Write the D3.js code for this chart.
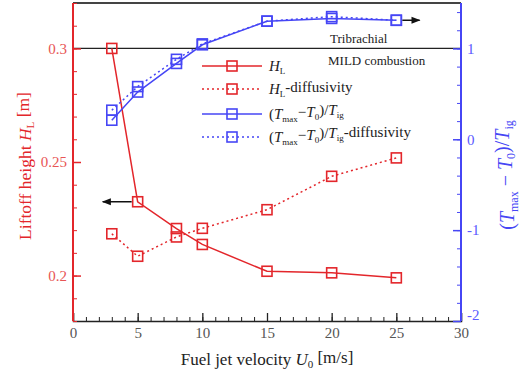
<!DOCTYPE html>
<html>
<head>
<meta charset="utf-8">
<script src="https://cdn.jsdelivr.net/npm/d3@7"></script>
<style>
  body { margin: 0; background: #fff; }
  text { font-family: "Liberation Serif", "DejaVu Serif", serif; }
</style>
</head>
<body>
<div id="viz"></div>
<script>
var velocity = [3, 5, 8, 10, 15, 20, 25];
var liftoff = [0.300, 0.2325, 0.2207, 0.2137, 0.2019, 0.2012, 0.199];
var liftoffDiff = [0.2184, 0.2085, 0.217, 0.2208, 0.229, 0.2437, 0.2518];
var tempRise = [0.21, 0.52, 0.835, 1.04, 1.30, 1.33, 1.31];
var tempRiseDiff = [0.32, 0.58, 0.88, 1.05, 1.30, 1.35, 1.31];
var xTicks = [0, 5, 10, 15, 20, 25, 30];
var leftTicks = [0.2, 0.25, 0.3];
var rightTicks = [-2, -1, 0, 1];

var width = 531, height = 374;
var plotL = 73, plotR = 461, plotT = 3, plotB = 321;
var red = '#e3262b', blue = '#4646f5';

var xScale = d3.scaleLinear().domain([0, 30]).range([plotL, plotR]);
var yLeft = d3.scaleLinear().domain([0.18, 0.32]).range([plotB, plotT]);
var yRight = d3.scaleLinear().domain([-2, 1.5]).range([plotB, plotT]);

var svg = d3.select('#viz').append('svg')
    .attr('width', width)
    .attr('height', height);

// frame top
svg.append('line')
    .attr('x1', plotL).attr('x2', plotR).attr('y1', plotT).attr('y2', plotT)
    .attr('stroke', '#444').attr('stroke-width', 1.8);

// divider line between regimes
svg.append('line')
    .attr('x1', plotL).attr('x2', plotR)
    .attr('y1', yLeft(0.3)).attr('y2', yLeft(0.3))
    .attr('stroke', '#222').attr('stroke-width', 1.2);

// x axis
var xAxis = svg.append('g').attr('transform', 'translate(0,' + plotB + ')');
xAxis.call(d3.axisBottom(xScale).ticks(30).tickSize(-4).tickFormat(''))
    .call(function (g) { g.select('.domain').remove(); })
    .selectAll('line').attr('stroke', '#222');
xAxis.append('g')
    .call(d3.axisBottom(xScale).tickValues(xTicks).tickSize(-8).tickPadding(6))
    .call(function (g) {
        g.select('.domain').attr('stroke', '#222').attr('stroke-width', 1.5);
        g.selectAll('line').attr('stroke', '#222').attr('stroke-width', 1.3);
        g.selectAll('text').attr('font-size', 15).attr('fill', '#555')
            .attr('font-family', '"Liberation Serif", serif');
    });

// left axis
var lAxis = svg.append('g').attr('transform', 'translate(' + plotL + ',0)');
lAxis.call(d3.axisLeft(yLeft).ticks(14).tickSize(-4).tickFormat(''))
    .call(function (g) { g.select('.domain').remove(); })
    .selectAll('line').attr('stroke', red);
lAxis.append('g')
    .call(d3.axisLeft(yLeft).tickValues(leftTicks).tickSize(-8).tickPadding(6)
        .tickFormat(function (d) { return String(+d.toFixed(2)); }))
    .call(function (g) {
        g.select('.domain').attr('stroke', red).attr('stroke-width', 2).attr('d', 'M0,' + plotT + 'V' + plotB);
        g.selectAll('line').attr('stroke', red).attr('stroke-width', 1.5);
        g.selectAll('text').attr('font-size', 15).attr('fill', '#e85555')
            .attr('font-family', '"Liberation Serif", serif');
    });

// right axis
var rAxis = svg.append('g').attr('transform', 'translate(' + plotR + ',0)');
rAxis.call(d3.axisRight(yRight).tickValues(d3.range(-2, 1.5, 0.2)).tickSize(-4).tickFormat(''))
    .call(function (g) { g.select('.domain').remove(); })
    .selectAll('line').attr('stroke', blue);
rAxis.append('g')
    .call(d3.axisRight(yRight).tickValues(rightTicks).tickSize(-8).tickPadding(6))
    .call(function (g) {
        g.select('.domain').attr('stroke', blue).attr('stroke-width', 2).attr('d', 'M0,' + plotT + 'V' + plotB);
        g.selectAll('line').attr('stroke', blue).attr('stroke-width', 1.5);
        g.selectAll('text').attr('font-size', 15).attr('fill', '#5a5aff')
            .attr('font-family', '"Liberation Serif", serif')
            .text(function (d) { return d; })
            .attr('dy', function (d) { return d === -2 ? '-0.1em' : '0.32em'; });
    });

// series
var series = [
    { vals: liftoff, y: yLeft, color: red, dash: null },
    { vals: liftoffDiff, y: yLeft, color: red, dash: '2,3' },
    { vals: tempRise, y: yRight, color: blue, dash: null },
    { vals: tempRiseDiff, y: yRight, color: blue, dash: '2,3' }
];

series.forEach(function (s) {
    var line = d3.line()
        .x(function (d, i) { return xScale(velocity[i]); })
        .y(function (d) { return s.y(d); });
    svg.append('path')
        .attr('d', line(s.vals))
        .attr('fill', 'none')
        .attr('stroke', s.color)
        .attr('stroke-width', 1.5)
        .attr('stroke-dasharray', s.dash);
    svg.selectAll(null).data(s.vals).enter().append('rect')
        .attr('x', function (d, i) { return xScale(velocity[i]) - 5; })
        .attr('y', function (d) { return s.y(d) - 5; })
        .attr('width', 10).attr('height', 10)
        .attr('fill', 'none')
        .attr('stroke', s.color)
        .attr('stroke-width', 1.6);
});

// arrows
var defs = svg.append('defs');
defs.append('marker')
    .attr('id', 'arrow')
    .attr('viewBox', '0 0 10 10')
    .attr('refX', 9).attr('refY', 5)
    .attr('markerWidth', 8).attr('markerHeight', 6)
    .attr('orient', 'auto')
    .append('path').attr('d', 'M0,1L10,5L0,9z').attr('fill', '#111');

svg.append('line')
    .attr('x1', xScale(25) + 6).attr('x2', xScale(26.8))
    .attr('y1', yRight(1.31)).attr('y2', yRight(1.31))
    .attr('stroke', '#111').attr('stroke-width', 1.5)
    .attr('marker-end', 'url(#arrow)');
svg.append('line')
    .attr('x1', xScale(5) - 6).attr('x2', xScale(2.3))
    .attr('y1', yLeft(0.2325)).attr('y2', yLeft(0.2325))
    .attr('stroke', '#111').attr('stroke-width', 1.5)
    .attr('marker-end', 'url(#arrow)');

// regime labels
svg.append('text').attr('x', 330).attr('y', 43)
    .attr('font-size', 13).attr('fill', '#222').text('Tribrachial');
svg.append('text').attr('x', 328).attr('y', 65)
    .attr('font-size', 13).attr('fill', '#222').text('MILD combustion');

// legend
var legendRows = [
    { color: red, dash: null, parts: [['H', 'i'], ['L', 's']] },
    { color: red, dash: '2,3', parts: [['H', 'i'], ['L', 's'], ['-diffusivity', 'n']] },
    { color: blue, dash: null, parts: [['(', 'n'], ['T', 'i'], ['max', 's'], ['\u2212', 'n'], ['T', 'i'], ['0', 's'], [')/', 'n'], ['T', 'i'], ['ig', 's']] },
    { color: blue, dash: '2,3', parts: [['(', 'n'], ['T', 'i'], ['max', 's'], ['\u2212', 'n'], ['T', 'i'], ['0', 's'], [')/', 'n'], ['T', 'i'], ['ig', 's'], ['-diffusivity', 'n']] }
];
var legendY = [66, 89, 114, 137];

function addParts(textSel, parts, subSize) {
    var prevSub = false;
    parts.forEach(function (p) {
        var t = textSel.append('tspan').text(p[0]);
        if (p[1] === 'i') t.attr('font-style', 'italic');
        if (p[1] === 's') {
            t.attr('font-size', subSize).attr('dy', '0.3em');
            prevSub = true;
        } else if (prevSub) {
            t.attr('dy', '-0.3em');
            prevSub = false;
        }
    });
}

legendRows.forEach(function (r, i) {
    var y = legendY[i];
    svg.append('line')
        .attr('x1', 202).attr('x2', 262).attr('y1', y).attr('y2', y)
        .attr('stroke', r.color).attr('stroke-width', 1.5)
        .attr('stroke-dasharray', r.dash);
    svg.append('rect')
        .attr('x', 227).attr('y', y - 5).attr('width', 10).attr('height', 10)
        .attr('fill', 'none').attr('stroke', r.color).attr('stroke-width', 1.6);
    var t = svg.append('text').attr('x', 269).attr('y', y + 5)
        .attr('font-size', 15).attr('fill', '#222');
    addParts(t, r.parts, 9);
});

// axis titles
var xt = svg.append('text').attr('x', 267).attr('y', 365)
    .attr('text-anchor', 'middle').attr('font-size', 17).attr('fill', '#222');
addParts(xt, [['Fuel jet velocity ', 'n'], ['U', 'i'], ['0', 's'], [' [m/s]', 'n']], 11);

var lt = svg.append('text')
    .attr('transform', 'translate(31,166) rotate(-90)')
    .attr('text-anchor', 'middle').attr('font-size', 17.5).attr('fill', red);
addParts(lt, [['Liftoff height ', 'n'], ['H', 'i'], ['L', 's'], [' [m]', 'n']], 11);

var rt = svg.append('text')
    .attr('transform', 'translate(514,175) rotate(-90)')
    .attr('text-anchor', 'middle').attr('font-size', 20).attr('fill', blue);
addParts(rt, [['(', 'n'], ['T', 'i'], ['max', 's'], [' \u2212 ', 'n'], ['T', 'i'], ['0', 's'], [')/', 'n'], ['T', 'i'], ['ig', 's']], 12);
</script>
</body>
</html>
